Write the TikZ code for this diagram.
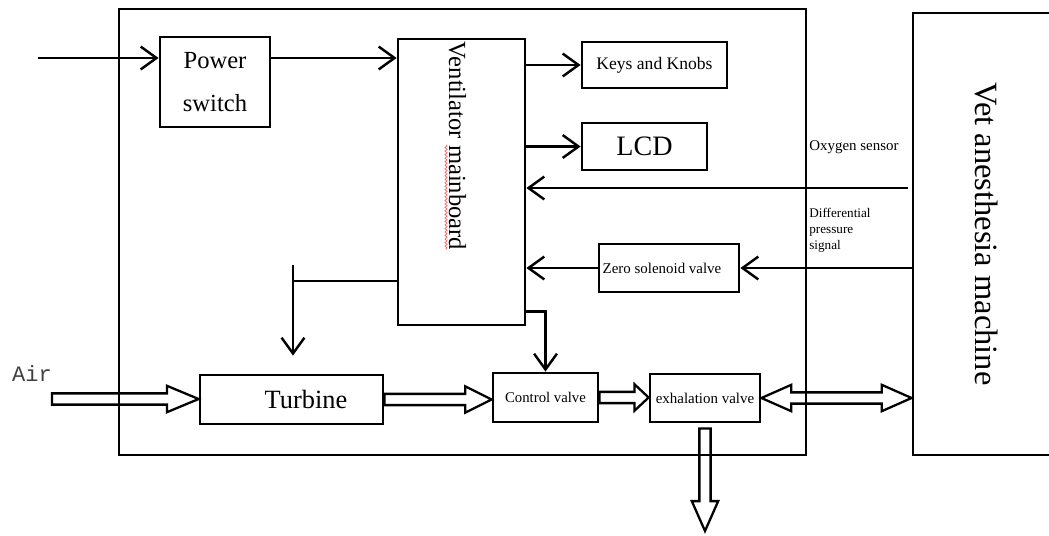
\documentclass[tikz,border=0pt]{standalone}
\usepackage{fontspec}
\setmainfont{Liberation Serif}
\setmonofont{Liberation Mono}
\usetikzlibrary{
  arrows.meta,
  positioning,
  calc,
  decorations.pathmorphing
}
\tikzset{
  blk/.style={
    draw, line width=1.6pt, inner sep=0pt, align=center
  },
  sig/.style={-{Straight Barb[length=9pt,width=13pt]}, line width=1.4pt},
  wire/.style={line width=1.4pt},
  frame/.style={line width=1.6pt},
  hollow/.style={line width=1.3pt, fill=white, to path={
    let \p1=(\tikztostart), \p2=(\tikztotarget),
        \n1={atan2((\y2)-(\y1),(\x2)-(\x1))}, \n2={veclen((\x2)-(\x1),(\y2)-(\y1))} in
    ([shift={(\p1)},rotate=\n1]0pt,3.2pt) -- ([shift={(\p1)},rotate=\n1]{\n2-#1},3.2pt)
    -- ([shift={(\p1)},rotate=\n1]{\n2-#1},7.5pt) -- ([shift={(\p1)},rotate=\n1]{\n2*1},0pt)
    -- ([shift={(\p1)},rotate=\n1]{\n2-#1},-7.5pt) -- ([shift={(\p1)},rotate=\n1]{\n2-#1},-3.2pt)
    -- ([shift={(\p1)},rotate=\n1]0pt,-3.2pt) -- cycle}},
  hollow/.default=15pt,
  hollowboth/.style={line width=1.3pt, fill=white, to path={
    let \p1=(\tikztostart), \p2=(\tikztotarget),
        \n1={atan2((\y2)-(\y1),(\x2)-(\x1))}, \n2={veclen((\x2)-(\x1),(\y2)-(\y1))} in
    ([shift={(\p1)},rotate=\n1]0pt,0pt) -- ([shift={(\p1)},rotate=\n1]#1,7.5pt)
    -- ([shift={(\p1)},rotate=\n1]#1,3.2pt) -- ([shift={(\p1)},rotate=\n1]{\n2-#1},3.2pt)
    -- ([shift={(\p1)},rotate=\n1]{\n2-#1},7.5pt) -- ([shift={(\p1)},rotate=\n1]{\n2*1},0pt)
    -- ([shift={(\p1)},rotate=\n1]{\n2-#1},-7.5pt) -- ([shift={(\p1)},rotate=\n1]{\n2-#1},-3.2pt)
    -- ([shift={(\p1)},rotate=\n1]#1,-3.2pt) -- ([shift={(\p1)},rotate=\n1]#1,-7.5pt) -- cycle}},
  hollowboth/.default=15pt,
  tag/.style={inner sep=0pt, align=left}
}
\begin{document}
\begin{tikzpicture}[x=0.02cm, y=-0.02cm]
  \useasboundingbox (0,0) rectangle (1049,535);
  % blocks
  \node[blk, minimum width=2.2cm, minimum height=1.8cm, font=\fontsize{14}{24}\selectfont] (pwr) at (215,82) {Power\\switch};
  \node[blk, minimum width=2.54cm, minimum height=5.72cm] (mb) at (461.5,182) {};
  \node[rotate=-90, inner sep=0pt, font=\fontsize{14}{16}\selectfont] (mbtxt) at (457.5,146) {Ventilator mainboard};
  \draw[red!55, line width=0.5pt, decorate, decoration={zigzag, amplitude=0.6pt, segment length=2pt}] (446,145) -- (446,250);
  \node[blk, minimum width=2.9cm, minimum height=0.92cm, font=\fontsize{10}{12}\selectfont] (keys) at (654.5,65) {Keys and Knobs};
  \node[blk, minimum width=2.5cm, minimum height=0.94cm, font=\fontsize{16}{18}\selectfont] (lcd) at (644.5,146.5) {LCD};
  \node[blk, minimum width=2.8cm, minimum height=0.96cm] (zsv) at (669,268) {};
  \node[inner sep=0pt, font=\fontsize{8.5}{10}\selectfont] (zsvtxt) at ([xshift=-0.14cm]zsv.center) {Zero solenoid valve};
  \node[blk, minimum width=3.66cm, minimum height=0.98cm] (turb) at (291.5,399.5) {};
  \node[inner sep=0pt, font=\fontsize{15}{18}\selectfont] (turbtxt) at ([xshift=0.29cm]turb.center) {Turbine};
  \node[blk, minimum width=2.1cm, minimum height=0.98cm, font=\fontsize{8.4}{10}\selectfont] (cv) at (545.5,397.5) {Control valve};
  \node[blk, minimum width=2.2cm, minimum height=0.96cm, font=\fontsize{8.5}{10}\selectfont] (exh) at (705,398) {exhalation valve};
  \node[blk, rotate=-90, minimum width=8.84cm, minimum height=2.94cm, font=\fontsize{18.5}{20}\selectfont] (vet) at (986.5,234) {Vet anesthesia machine};
  % labels
  \node[tag, anchor=west, font=\fontsize{8.5}{10}\selectfont] (o2lbl) at (809,147) {Oxygen sensor};
  \node[tag, anchor=north west, font=\fontsize{7.5}{9}\selectfont] (dplbl) at (809,208) {Differential\\pressure\\signal};
  \node[font=\ttfamily\fontsize{12.5}{14}\selectfont, text=black!75] (airlbl) at (32,374) {Air};
  % signal lines
  \coordinate (pin) at (38,58);
  \draw[sig] (pin) -- (pin -| pwr.west);
  \draw[sig] (pwr.east |- pin) -- (pin -| mb.west);
  \draw[sig] (mb.east |- keys.west) -- (keys.west);
  \draw[sig] (mb.east |- lcd.west) -- (lcd.west);
  \coordinate (o2) at (908,188);
  \draw[sig] (o2) -- (o2 -| mb.east);
  \draw[sig] (zsv.east -| vet.south) -- (zsv.east);
  \draw[sig] (zsv.west) -- (zsv.west -| mb.east);
  \coordinate (tb) at (293,281);
  \draw[wire] (mb.west |- tb) -- (tb);
  \draw[sig, shorten >=0.36cm] ([yshift=0.32cm]tb) -- (tb |- turb.north);
  \draw[sig] (mb.south east) ++(0,-15) -| (cv.north);
  % gas path
  \coordinate (airin) at (52,399);
  \draw[hollow=18pt] (airin) to (airin -| turb.west);
  \draw[hollow=15pt] (turb.east) to (turb.east -| cv.west);
  \draw[hollow=8pt] (cv.east) to (cv.east -| exh.west);
  \draw[hollowboth=17pt] (exh.east) to (exh.east -| vet.south);
  \coordinate (exhaust) at (705,531);
  \draw[hollow=17pt] ([yshift=-0.1cm]exh.south) to (exhaust);
  % ventilator frame
  \draw[frame] (119,9) rectangle (806,455);
\end{tikzpicture}
\end{document}
